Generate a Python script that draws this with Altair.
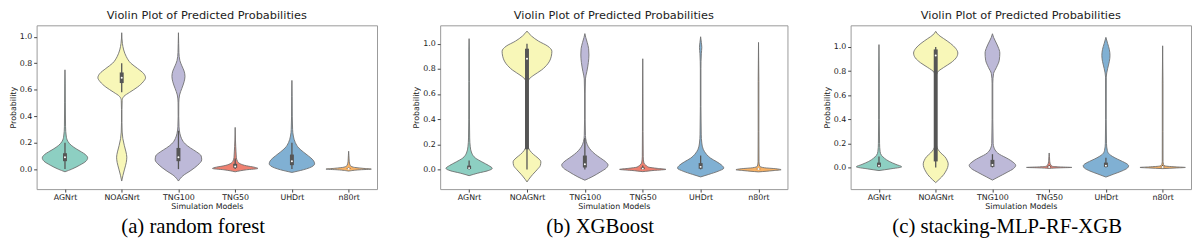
import altair as alt
import pandas as pd

CATEGORIES = ["AGNrt", "NOAGNrt", "TNG100", "TNG50", "UHDrt", "n80rt"]
COLORS = ["#8dcfc2", "#f8f7b8", "#bdb9d8", "#ef8070", "#80b0d3", "#f9b264"]
PANEL_TITLE = "Violin Plot of Predicted Probabilities"
CAPTIONS = ["(a) random forest", "(b) XGBoost", "(c) stacking-MLP-RF-XGB"]
Y_TICKS = [0.0, 0.2, 0.4, 0.6, 0.8, 1.0]
Y_DOMAINS = [[-0.151, 1.086], [-0.157, 1.146], [-0.18, 1.18]]

# violin outlines: [probability, half-width (in category units)]
RF_SHAPES = {
    "AGNrt": [[-0.02, 0], [0.0, 0.12], [0.03, 0.26], [0.06, 0.37], [0.085, 0.40], [0.11, 0.36], [0.13, 0.29],
              [0.15, 0.21], [0.18, 0.11], [0.21, 0.05], [0.25, 0.022], [0.32, 0.01], [0.5, 0.006], [0.65, 0.004], [0.75, 0]],
    "NOAGNrt": [[-0.09, 0], [-0.05, 0.02], [0.0, 0.05], [0.05, 0.08], [0.09, 0.09], [0.13, 0.075], [0.18, 0.045],
                [0.23, 0.02], [0.28, 0.008], [0.35, 0.004], [0.45, 0.004], [0.52, 0.008], [0.55, 0.04], [0.58, 0.14],
                [0.62, 0.28], [0.66, 0.38], [0.69, 0.42], [0.72, 0.39], [0.76, 0.28], [0.80, 0.16], [0.85, 0.08],
                [0.90, 0.035], [0.95, 0.012], [1.03, 0]],
    "TNG100": [[-0.09, 0], [-0.05, 0.08], [-0.01, 0.22], [0.03, 0.34], [0.07, 0.41], [0.10, 0.40], [0.13, 0.32],
               [0.16, 0.21], [0.19, 0.12], [0.23, 0.055], [0.27, 0.025], [0.32, 0.01], [0.40, 0.005], [0.50, 0.006],
               [0.56, 0.02], [0.61, 0.06], [0.66, 0.10], [0.70, 0.115], [0.74, 0.10], [0.78, 0.06], [0.82, 0.025],
               [0.88, 0.008], [0.95, 0.004], [1.03, 0]],
    "TNG50": [[-0.02, 0], [-0.005, 0.2], [0.005, 0.40], [0.015, 0.33], [0.025, 0.2], [0.04, 0.09], [0.06, 0.04],
              [0.09, 0.02], [0.13, 0.015], [0.17, 0.01], [0.22, 0.005], [0.315, 0]],
    "UHDrt": [[-0.025, 0], [-0.005, 0.2], [0.01, 0.31], [0.04, 0.40], [0.07, 0.37], [0.10, 0.29], [0.13, 0.2],
              [0.16, 0.12], [0.20, 0.06], [0.25, 0.025], [0.30, 0.012], [0.40, 0.006], [0.55, 0.004], [0.67, 0]],
    "n80rt": [[-0.015, 0], [-0.005, 0.2], [0.0, 0.40], [0.006, 0.25], [0.015, 0.08], [0.03, 0.025], [0.06, 0.01],
              [0.1, 0.005], [0.135, 0]],
}
XGB_SHAPES = {
    "AGNrt": [[-0.05, 0], [-0.03, 0.15], [-0.01, 0.33], [0.008, 0.40], [0.03, 0.34], [0.06, 0.22], [0.09, 0.11],
              [0.13, 0.045], [0.18, 0.02], [0.25, 0.01], [0.4, 0.006], [0.7, 0.005], [0.95, 0.004], [1.04, 0]],
    "NOAGNrt": [[-0.10, 0], [-0.08, 0.03], [-0.04, 0.10], [0.0, 0.18], [0.03, 0.23], [0.06, 0.24], [0.09, 0.19],
                [0.12, 0.11], [0.15, 0.05], [0.18, 0.02], [0.22, 0.008], [0.35, 0.005], [0.55, 0.005], [0.68, 0.01],
                [0.72, 0.04], [0.75, 0.12], [0.79, 0.25], [0.84, 0.36], [0.90, 0.42], [0.94, 0.43], [0.98, 0.36],
                [1.02, 0.2], [1.06, 0.08], [1.10, 0]],
    "TNG100": [[-0.086, 0], [-0.06, 0.12], [-0.02, 0.27], [0.01, 0.37], [0.035, 0.40], [0.06, 0.36], [0.09, 0.27],
               [0.12, 0.18], [0.15, 0.11], [0.18, 0.06], [0.22, 0.025], [0.27, 0.01], [0.4, 0.005], [0.6, 0.005],
               [0.72, 0.01], [0.78, 0.035], [0.85, 0.06], [0.91, 0.07], [0.96, 0.065], [1.01, 0.04], [1.05, 0.015],
               [1.08, 0]],
    "TNG50": [[-0.018, 0], [-0.008, 0.2], [0.0, 0.40], [0.008, 0.25], [0.018, 0.1], [0.035, 0.05], [0.05, 0.02],
              [0.1, 0.008], [0.3, 0.005], [0.6, 0.004], [0.88, 0]],
    "UHDrt": [[-0.06, 0], [-0.04, 0.14], [-0.015, 0.3], [0.01, 0.40], [0.035, 0.36], [0.06, 0.28], [0.09, 0.17],
              [0.12, 0.1], [0.16, 0.045], [0.21, 0.02], [0.28, 0.01], [0.5, 0.005], [0.8, 0.005], [0.92, 0.012],
              [0.97, 0.02], [1.01, 0.012], [1.055, 0]],
    "n80rt": [[-0.02, 0], [-0.01, 0.25], [-0.003, 0.39], [0.005, 0.3], [0.013, 0.1], [0.025, 0.02], [0.06, 0.008],
              [0.3, 0.006], [0.7, 0.006], [1.01, 0]],
}
STACK_SHAPES = {
    "AGNrt": [[-0.026, 0], [-0.012, 0.2], [0.005, 0.40], [0.025, 0.3], [0.05, 0.18], [0.075, 0.1], [0.10, 0.045],
              [0.13, 0.02], [0.2, 0.01], [0.4, 0.006], [0.8, 0.005], [1.02, 0]],
    "NOAGNrt": [[-0.126, 0], [-0.10, 0.06], [-0.06, 0.14], [-0.03, 0.18], [0.0, 0.21], [0.03, 0.22], [0.06, 0.2],
                [0.09, 0.16], [0.12, 0.09], [0.15, 0.04], [0.18, 0.015], [0.25, 0.008], [0.5, 0.006], [0.75, 0.008],
                [0.79, 0.03], [0.83, 0.14], [0.87, 0.27], [0.91, 0.36], [0.95, 0.39], [0.99, 0.35], [1.03, 0.26],
                [1.07, 0.14], [1.10, 0.05], [1.13, 0]],
    "TNG100": [[-0.105, 0], [-0.08, 0.1], [-0.04, 0.26], [-0.01, 0.37], [0.018, 0.41], [0.045, 0.36], [0.07, 0.28],
               [0.09, 0.2], [0.11, 0.12], [0.13, 0.07], [0.16, 0.03], [0.2, 0.012], [0.4, 0.006], [0.7, 0.006],
               [0.78, 0.02], [0.83, 0.07], [0.89, 0.12], [0.95, 0.13], [1.0, 0.1], [1.05, 0.05], [1.08, 0.02], [1.11, 0]],
    "TNG50": [[-0.008, 0], [-0.003, 0.2], [0.0, 0.40], [0.004, 0.2], [0.01, 0.05], [0.02, 0.03], [0.035, 0.015],
              [0.06, 0.008], [0.09, 0.005], [0.12, 0]],
    "UHDrt": [[-0.08, 0], [-0.055, 0.14], [-0.03, 0.28], [-0.005, 0.38], [0.013, 0.40], [0.03, 0.37], [0.05, 0.29],
              [0.07, 0.2], [0.09, 0.12], [0.11, 0.06], [0.14, 0.025], [0.2, 0.01], [0.4, 0.005], [0.75, 0.006],
              [0.82, 0.03], [0.88, 0.06], [0.93, 0.072], [0.98, 0.06], [1.03, 0.03], [1.08, 0]],
    "n80rt": [[-0.01, 0], [-0.004, 0.25], [0.0, 0.40], [0.004, 0.25], [0.012, 0.05], [0.025, 0.015], [0.05, 0.007],
              [0.3, 0.006], [0.7, 0.006], [1.01, 0]],
}

# inner box stats: [whisker low, Q1, median, Q3, whisker high]
RF_BOX = {"AGNrt": [0.0, 0.06, 0.09, 0.12, 0.20], "NOAGNrt": [0.58, 0.65, 0.69, 0.73, 0.80],
          "TNG100": [0.0, 0.06, 0.09, 0.16, 0.29], "TNG50": [0.0, 0.01, 0.02, 0.04, 0.08],
          "UHDrt": [0.0, 0.03, 0.06, 0.11, 0.20], "n80rt": [0.0, 0.001, 0.003, 0.006, 0.012]}
XGB_BOX = {"AGNrt": [0.0, 0.003, 0.01, 0.03, 0.07], "NOAGNrt": [0.0, 0.16, 0.88, 0.96, 1.0],
           "TNG100": [0.0, 0.015, 0.04, 0.11, 0.25], "TNG50": [0.0, 0.002, 0.006, 0.015, 0.03],
           "UHDrt": [0.0, 0.005, 0.02, 0.05, 0.11], "n80rt": [0.0, 0.001, 0.003, 0.005, 0.01]}
STACK_BOX = {"AGNrt": [0.0, 0.005, 0.015, 0.04, 0.09], "NOAGNrt": [0.0, 0.05, 0.93, 0.98, 1.0],
             "TNG100": [0.0, 0.005, 0.02, 0.063, 0.11], "TNG50": [0.0, 0.001, 0.004, 0.01, 0.02],
             "UHDrt": [0.0, 0.004, 0.015, 0.04, 0.08], "n80rt": [0.0, 0.001, 0.003, 0.008, 0.02]}

PANELS = [(RF_SHAPES, RF_BOX), (XGB_SHAPES, XGB_BOX), (STACK_SHAPES, STACK_BOX)]
WIDTHS = [345, 352, 345]
HEIGHT = 166

label_expr = "[" + ",".join("'%s'" % c for c in CATEGORIES) + "][datum.value]"


def make_panel(k):
    shapes, box = PANELS[k]
    rows = []
    for i, c in enumerate(CATEGORIES):
        for y, w in shapes[c]:
            rows.append({"cat": c, "idx": i, "y": y, "w": w})
    vdf = pd.DataFrame(rows)
    brows = []
    for i, c in enumerate(CATEGORIES):
        lo, q1, med, q3, hi = box[c]
        brows.append({"cat": c, "idx": i, "lo": lo, "q1": q1, "med": med, "q3": q3, "hi": hi})
    bdf = pd.DataFrame(brows)

    xscale = alt.Scale(domain=[-0.5, 5.5], nice=False, zero=False)
    yscale = alt.Scale(domain=Y_DOMAINS[k], nice=False, zero=False)
    xaxis = alt.Axis(values=list(range(6)), labelExpr=label_expr, title="Simulation Models",
                     labelOverlap=False)
    yaxis = alt.Axis(values=Y_TICKS, format=".1f", title="Probability", labelOverlap=False)

    def X(field):
        return alt.X(field, scale=xscale, axis=xaxis)

    def Y(field):
        return alt.Y(field, scale=yscale, axis=yaxis)

    violin = alt.Chart(vdf).transform_calculate(
        left="datum.idx - datum.w", right="datum.idx + datum.w"
    ).mark_area(orient="horizontal", interpolate="monotone", stroke="#707070",
                strokeWidth=0.9, opacity=1).encode(
        y=Y("y:Q"),
        x=X("left:Q"),
        x2="right:Q",
        color=alt.Color("cat:N", scale=alt.Scale(domain=CATEGORIES, range=COLORS), legend=None),
        detail="cat:N",
    )
    whisker = alt.Chart(bdf).mark_rule(color="#555555", strokeWidth=1.3).encode(
        x=X("idx:Q"), y=Y("lo:Q"), y2="hi:Q")
    boxes = alt.Chart(bdf).mark_rule(color="#555555", strokeWidth=4).encode(
        x=X("idx:Q"), y=Y("q1:Q"), y2="q3:Q")
    med = alt.Chart(bdf).mark_point(filled=True, color="white", size=4, opacity=1).encode(
        x=X("idx:Q"), y=Y("med:Q"))

    inner = alt.layer(violin, whisker, boxes, med).properties(
        width=WIDTHS[k], height=HEIGHT, title=PANEL_TITLE)
    return alt.vconcat(inner, title=alt.TitleParams(
        CAPTIONS[k], orient="bottom", anchor="middle", font="Liberation Serif",
        fontSize=21, fontWeight="normal", offset=5, color="#000000"))


chart = alt.hconcat(*[make_panel(k) for k in range(3)], spacing=34).configure_view(
    stroke="#999999", strokeWidth=1
).configure_axis(
    grid=False, domain=False, tickSize=3, tickColor="#444444", labelFont="DejaVu Sans",
    labelFontSize=8, labelColor="#222222", titleFont="DejaVu Sans", titleFontSize=8,
    titleFontWeight="normal", titleColor="#222222", labelPadding=2, titlePadding=2,
).configure_axisX(titlePadding=1).configure_title(
    font="DejaVu Sans", fontSize=11.5, fontWeight="normal", color="#222222", offset=0
).configure_concat(spacing=0).properties(padding=0, background="white")

chart.save("out.html", embed_options={"renderer": "svg", "actions": False})
